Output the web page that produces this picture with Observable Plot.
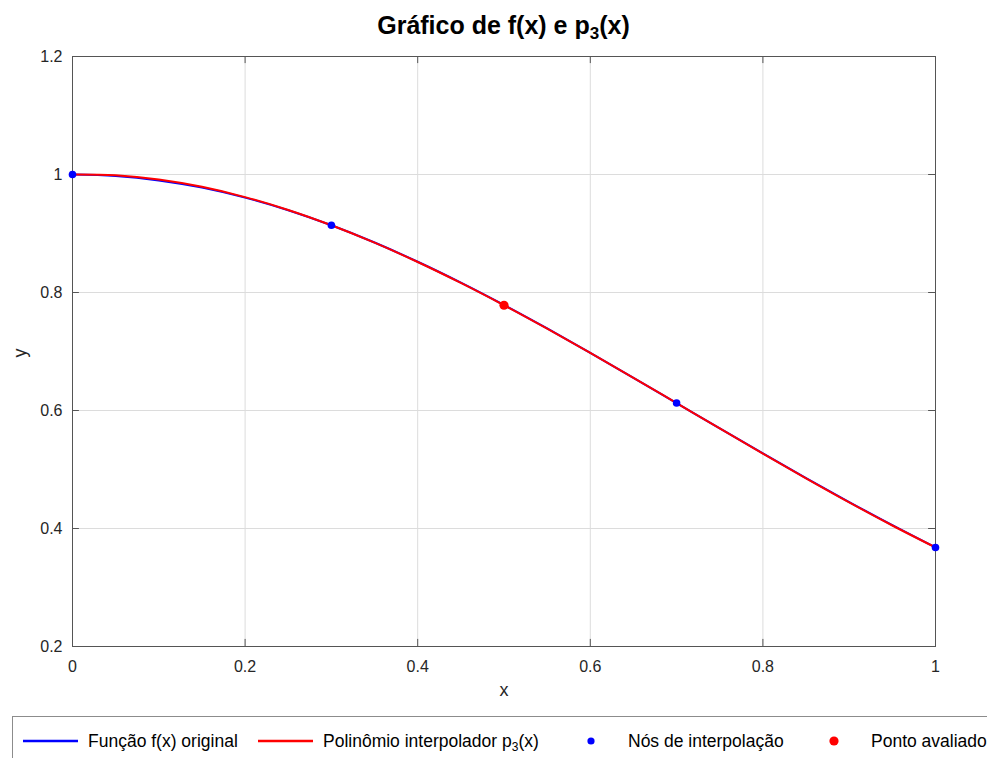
<!DOCTYPE html>
<html>
<head>
<meta charset="utf-8">
<script src="https://cdn.jsdelivr.net/npm/d3@7"></script>
<script src="https://cdn.jsdelivr.net/npm/@observablehq/plot@0.6"></script>
<style>
  html, body { margin: 0; padding: 0; background: #fff; overflow: hidden; }
  body { width: 987px; height: 758px; position: relative; font-family: "Liberation Sans", Arial, sans-serif; }
  #title { position: absolute; left: 72px; width: 863px; top: 10px; text-align: center;
           font-weight: bold; font-size: 25px; line-height: 30px; color: #000; }
  #title sub { font-size: 17px; vertical-align: -5px; line-height: 0; }
  #chart { position: absolute; left: 0; top: 0; }
  #legend { position: absolute; left: 0; top: 700px; }
</style>
</head>
<body>
<div id="title">Gráfico de f(x) e p<sub>3</sub>(x)</div>
<div id="chart"></div>
<svg id="legend" width="987" height="58"></svg>
<script>
// Sample abscissas for the two curves
const xs = [0, 0.05, 0.1, 0.15, 0.2, 0.25, 0.3, 0.35, 0.4, 0.45, 0.5,
            0.55, 0.6, 0.65, 0.7, 0.75, 0.8, 0.85, 0.9, 0.95, 1];
// Original function f(x)
const fVals = [1.0000, 0.9975, 0.9900, 0.9778, 0.9608, 0.9394, 0.9139, 0.8847, 0.8521, 0.8167, 0.7788,
               0.7390, 0.6977, 0.6554, 0.6126, 0.5698, 0.5273, 0.4855, 0.4449, 0.4056, 0.3679];
// Interpolating polynomial p3(x)
const pVals = [1.0000, 0.9987, 0.9916, 0.9791, 0.9617, 0.9399, 0.9139, 0.8844, 0.8517, 0.8162, 0.7784,
               0.7387, 0.6976, 0.6554, 0.6126, 0.5697, 0.5271, 0.4851, 0.4443, 0.4051, 0.3679];
// Interpolation nodes
const nodeX = [0, 0.3, 0.7, 1];
const nodeY = [1.0000, 0.9139, 0.6126, 0.3679];
// Evaluated point
const evalX = [0.5];
const evalY = [0.7784];
// Axis ticks
const xTicks = [0, 0.2, 0.4, 0.6, 0.8, 1];
const yTicks = [0.2, 0.4, 0.6, 0.8, 1, 1.2];
const xTickLabels = ["0", "0.2", "0.4", "0.6", "0.8", "1"];
const yTickLabels = ["0.2", "0.4", "0.6", "0.8", "1", "1.2"];

const fData = xs.map((x, i) => ({x, y: fVals[i]}));
const pData = xs.map((x, i) => ({x, y: pVals[i]}));
const nodes = nodeX.map((x, i) => ({x, y: nodeY[i]}));
const evaluated = evalX.map((x, i) => ({x, y: evalY[i]}));

const frameColor = "#555";
const textColor = "#262626";

const chart = Plot.plot({
  width: 987,
  height: 710,
  marginTop: 56,
  marginBottom: 64,
  marginLeft: 72,
  marginRight: 52,
  style: {fontFamily: "Liberation Sans, Arial, sans-serif", fontSize: "16px", color: textColor, background: "transparent"},
  x: {domain: [0, 1]},
  y: {domain: [0.2, 1.2]},
  marks: [
    Plot.gridX(xTicks, {stroke: "#dcdcdc", strokeOpacity: 1}),
    Plot.gridY(yTicks, {stroke: "#dcdcdc", strokeOpacity: 1}),
    // tick labels
    Plot.axisX({ticks: xTicks, tickSize: 0, tickPadding: 14, tickFormat: d => xTickLabels[xTicks.indexOf(d)], label: null, fill: textColor}),
    Plot.axisY({ticks: yTicks, tickSize: 0, tickPadding: 10, tickFormat: d => yTickLabels[yTicks.indexOf(d)], label: null, fill: textColor}),
    // inward tick marks on all four sides
    Plot.ruleX(xTicks, {x: d => d, y1: 0.2, y2: 0.2 + 0.012, stroke: frameColor}),
    Plot.ruleX(xTicks, {x: d => d, y1: 1.2, y2: 1.2 - 0.012, stroke: frameColor}),
    Plot.ruleY(yTicks, {y: d => d, x1: 0, x2: 0.008, stroke: frameColor}),
    Plot.ruleY(yTicks, {y: d => d, x1: 1, x2: 1 - 0.008, stroke: frameColor}),
    Plot.frame({stroke: frameColor}),
    // axis titles
    Plot.text(["x"], {frameAnchor: "bottom", dy: 49, fontSize: 18, fill: textColor}),
    Plot.text(["y"], {frameAnchor: "left", dx: -52, dy: 6, rotate: -90, fontSize: 18, fill: textColor}),
    // curves
    Plot.line(fData, {x: "x", y: "y", stroke: "#0000ff", strokeWidth: 2, curve: "catmull-rom"}),
    Plot.line(pData, {x: "x", y: "y", stroke: "#ff0000", strokeWidth: 2, curve: "catmull-rom"}),
    // points
    Plot.dot(nodes, {x: "x", y: "y", r: 3.8, fill: "#0000ff", stroke: "none"}),
    Plot.dot(evaluated, {x: "x", y: "y", r: 4.6, fill: "#ff0000", stroke: "none"})
  ]
});
document.getElementById("chart").appendChild(chart);

// Legend entries (swatch position, text position)
const legendItems = [
  {kind: "line", color: "#0000ff", text: ["Função f(x) original"], sx: 23, tx: 88},
  {kind: "line", color: "#ff0000", text: ["Polinômio interpolador p", "3", "(x)"], sx: 258, tx: 323},
  {kind: "dot", color: "#0000ff", r: 3.6, text: ["Nós de interpolação"], sx: 591, tx: 628},
  {kind: "dot", color: "#ff0000", r: 4.6, text: ["Ponto avaliado"], sx: 834, tx: 871}
];
const legend = d3.select("#legend");
legend.append("rect")
  .attr("x", 12.5).attr("y", 16.5).attr("width", 1000).attr("height", 60)
  .attr("fill", "#fff").attr("stroke", "#8c8c8c");
for (const it of legendItems) {
  if (it.kind === "line") {
    legend.append("line").attr("x1", it.sx).attr("x2", it.sx + 55)
      .attr("y1", 41).attr("y2", 41).attr("stroke", it.color).attr("stroke-width", 2.5);
  } else {
    legend.append("circle").attr("cx", it.sx).attr("cy", 41).attr("r", it.r).attr("fill", it.color);
  }
  const t = legend.append("text").attr("x", it.tx).attr("y", 47)
    .attr("font-family", "Liberation Sans, Arial, sans-serif").attr("font-size", 17.5).attr("fill", "#000");
  t.append("tspan").text(it.text[0]);
  if (it.text.length > 1) {
    t.append("tspan").attr("dy", 4).attr("font-size", 12).text(it.text[1]);
    t.append("tspan").attr("dy", -4).text(it.text[2]);
  }
}
</script>
</body>
</html>
